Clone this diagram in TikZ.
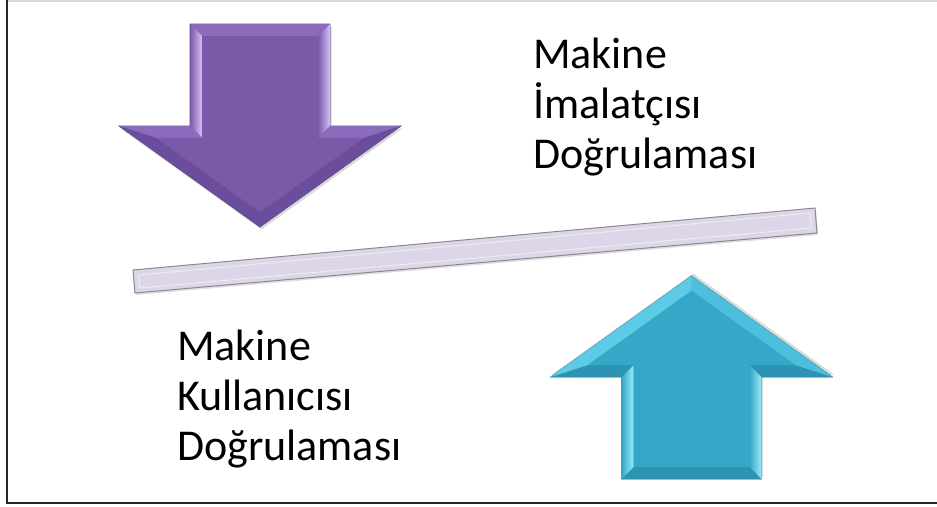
\documentclass[tikz,border=0pt]{standalone}
\usepackage{fontspec}
\setmainfont{Carlito}
\usetikzlibrary{calc, shadows}
\definecolor{lilaface}{HTML}{7A59A8}
\definecolor{lilalight}{HTML}{D6C2F8}
\definecolor{lilamid}{HTML}{8A6BBC}
\definecolor{lilaslant}{HTML}{6B4E9B}
\definecolor{liladark}{HTML}{5C418C}
\definecolor{cyanface}{HTML}{35A8C8}
\definecolor{cyanlight}{HTML}{9AEBF8}
\definecolor{cyanmid}{HTML}{5CCCE6}
\definecolor{cyanslant}{HTML}{4DBFDC}
\definecolor{cyanlow}{HTML}{2C93B2}
\definecolor{cyandark}{HTML}{1F7D98}
\definecolor{barface}{HTML}{DCD6E8}
\definecolor{barrim}{HTML}{8A8790}
\tikzstyle{sidetext}=[anchor=base west, align=left, inner sep=0pt,
font=\fontsize{44}{50}\selectfont, text=black]
\tikzstyle{frameline}=[line width=2pt, black!85]

% bevelled block arrow, shaft top at (0,0), tip at (0,203)
% #1 face, #2 light, #3 back edges, #4 right slant, #5 left slant, #6 outline, #7 shadow yshift
\newcommand{\bevelarrow}[7]{%
  \fill[#1, draw=#6, line width=0.6pt,
    drop shadow={opacity=0.3, shadow xshift=1.5pt, shadow yshift=#7}]
    (-70,0) -- (70,0) -- (70,102) -- (141,102) -- (0,203) -- (-141,102) -- (-70,102) -- cycle;
  \fill[#3] (-70,0) -- (70,0) -- (58,12) -- (-58,12) -- cycle;
  \shade[left color=#1, right color=#2] (70,0) -- (70,102) -- (58,114) -- (58,12) -- cycle;
  \shade[left color=#1, right color=#2] (-70,0) -- (-70,102) -- (-58,114) -- (-58,12) -- cycle;
  \fill[#3] (70,102) -- (141,102) -- (103.6,114) -- (58,114) -- cycle;
  \fill[#3] (-70,102) -- (-141,102) -- (-103.6,114) -- (-58,114) -- cycle;
  \fill[#4] (141,102) -- (0,203) -- (0,188.2) -- (103.6,114) -- cycle;
  \fill[#5] (-141,102) -- (0,203) -- (0,188.2) -- (-103.6,114) -- cycle;
  \fill[#1] (-58,12) -- (58,12) -- (58,114) -- (103.6,114) -- (0,188.2) -- (-103.6,114) -- (-58,114) -- cycle;
}

\begin{document}
\begin{tikzpicture}[x=1pt, y=-1pt]

    \useasboundingbox (0,0) rectangle (937,506);

    % FRAME
    \draw[gray!30, line width=1.5pt] (8,0.75) -- (937,0.75);
    \draw[frameline] (7,0) -- (7,503) -- (937,503);

    % PURPLE ARROW (down)
    \begin{scope}[shift={(260,24)}]
        \bevelarrow{lilaface}{lilalight}{lilamid}{lilaslant}{lilaslant}{liladark}{-2.5pt}
    \end{scope}

    % CYAN ARROW (up)
    \begin{scope}[shift={(691.5,479)}, yscale=-1]
        \bevelarrow{cyanface}{cyanlight}{cyanlow}{cyanslant}{cyanmid}{cyandark}{2.5pt}
    \end{scope}

    % BAR
    \fill[barface, draw=barrim, line width=1pt,
        drop shadow={opacity=0.25, shadow xshift=1pt, shadow yshift=-2pt}]
        (133,270) -- (815,208) -- (817,233) -- (135,293) -- cycle;
    \draw[white!50!barface, line width=1pt] (139,275) -- (810,213) -- (811,228) -- (140,288) -- cycle;

    % TEXTS
    \node[sidetext] (imalatci) at (533,168) {Makine\\İmalatçısı\\Doğrulaması};
    \node[sidetext] (kullanici) at (177,460) {Makine\\Kullanıcısı\\Doğrulaması};

\end{tikzpicture}
\end{document}
